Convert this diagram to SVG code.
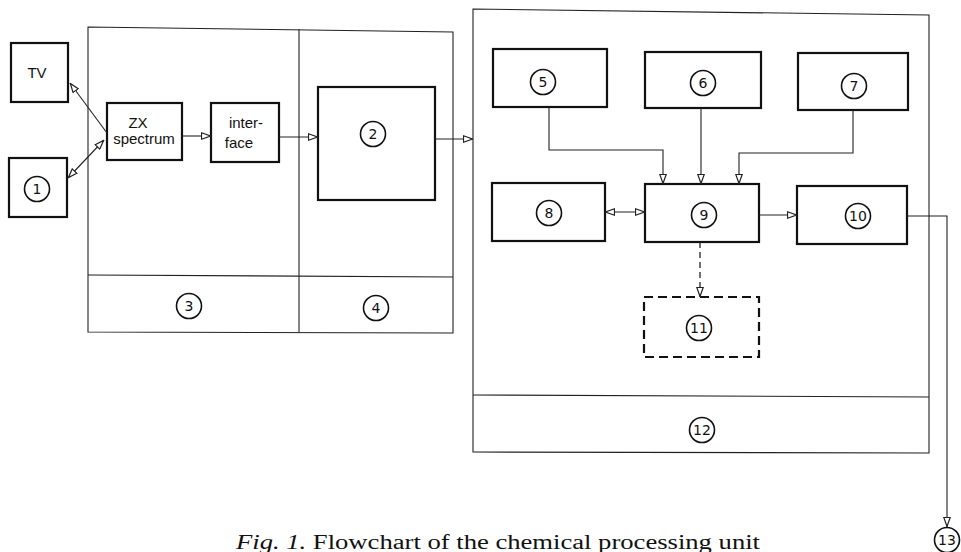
<svg xmlns="http://www.w3.org/2000/svg" width="961" height="552" viewBox="0 0 961 552">
<defs>
<style>
.frame{fill:none;stroke:#222;stroke-width:1.1}
.box{fill:none;stroke:#111;stroke-width:2.2}
.dbox{fill:none;stroke:#111;stroke-width:2.2;stroke-dasharray:9 5}
.circ{fill:none;stroke:#111;stroke-width:1.6}
.num{font-family:"DejaVu Sans","Liberation Sans",sans-serif;font-size:14px;fill:#111;text-anchor:middle}
.lbl{font-family:"Liberation Sans","DejaVu Sans",sans-serif;font-size:15px;fill:#111;text-anchor:middle}
.con{fill:none;stroke:#222;stroke-width:1.1}
.dcon{fill:none;stroke:#222;stroke-width:1.3;stroke-dasharray:6 4}
.cap{font-family:"Liberation Serif","Times New Roman",serif;font-size:20px;fill:#111}
</style>
<marker id="ah" viewBox="0 0 10 8" refX="10" refY="4" markerWidth="10" markerHeight="8" markerUnits="userSpaceOnUse" orient="auto-start-reverse">
<path d="M0.5,0.8 L9.5,4 L0.5,7.2 Z" fill="#fff" stroke="#222" stroke-width="1.2"/>
</marker>
</defs>
<rect width="961" height="552" fill="#fff"/>

<g id="frame-left">
<path class="frame" d="M88,27 L453,32 L453,333 L88,332 Z"/>
<line class="frame" x1="299" y1="29" x2="299" y2="332"/>
<line class="frame" x1="88" y1="275" x2="453" y2="277"/>
</g>
<g id="n3"><circle class="circ" cx="189" cy="306" r="12.5"/><text class="num" x="189" y="311">3</text></g>
<g id="n4"><circle class="circ" cx="376" cy="308" r="12.5"/><text class="num" x="376" y="313">4</text></g>

<g id="frame-right">
<path class="frame" d="M473,9 L929,15 L929,453 L473,452 Z"/>
<line class="frame" x1="473" y1="395" x2="929" y2="397"/>
</g>
<g id="n12"><circle class="circ" cx="702" cy="430" r="12.5"/><text class="num" x="702" y="435">12</text></g>

<g id="tv"><rect class="box" x="11" y="43" width="57" height="59"/><text class="lbl" x="37" y="78">TV</text></g>
<g id="n1"><rect class="box" x="9" y="158" width="58" height="59"/><circle class="circ" cx="37" cy="189" r="12.5"/><text class="num" x="37" y="194">1</text></g>
<g id="zx"><rect class="box" x="107" y="103" width="75" height="57"/><text class="lbl" x="138" y="128">ZX</text><text class="lbl" x="144" y="144">spectrum</text></g>
<g id="iface"><rect class="box" x="211" y="103" width="68" height="59"/><text class="lbl" x="246" y="128">inter-</text><text class="lbl" x="239" y="148">face</text></g>
<g id="n2"><rect class="box" x="318" y="87" width="117" height="113"/><circle class="circ" cx="373" cy="134" r="12.5"/><text class="num" x="373" y="139">2</text></g>

<g id="n5"><rect class="box" x="493" y="49" width="114" height="58"/><circle class="circ" cx="543" cy="82" r="12.5"/><text class="num" x="543" y="87">5</text></g>
<g id="n6"><rect class="box" x="645" y="52" width="116" height="56"/><circle class="circ" cx="703" cy="83" r="12.5"/><text class="num" x="703" y="88">6</text></g>
<g id="n7"><rect class="box" x="798" y="53" width="110" height="57"/><circle class="circ" cx="854" cy="86" r="12.5"/><text class="num" x="854" y="91">7</text></g>
<g id="n8"><rect class="box" x="492" y="183" width="113" height="58"/><circle class="circ" cx="549" cy="213" r="12.5"/><text class="num" x="549" y="218">8</text></g>
<g id="n9"><rect class="box" x="645" y="184" width="114" height="58"/><circle class="circ" cx="704" cy="215" r="12.5"/><text class="num" x="704" y="220">9</text></g>
<g id="n10"><rect class="box" x="797" y="186" width="110" height="58"/><circle class="circ" cx="858" cy="216" r="12.5"/><text class="num" x="858" y="221">10</text></g>
<g id="n11"><rect class="dbox" x="644" y="297" width="115" height="60"/><circle class="circ" cx="699" cy="328" r="12.5"/><text class="num" x="699" y="333">11</text></g>
<g id="n13"><circle class="circ" cx="947" cy="540" r="12.5"/><text class="num" x="947" y="545">13</text></g>

<g id="connectors">
<line class="con" x1="107" y1="133" x2="70" y2="83" marker-end="url(#ah)"/>
<line class="con" x1="104" y1="140" x2="68" y2="178" marker-start="url(#ah)" marker-end="url(#ah)"/>
<line class="con" x1="182" y1="136" x2="211" y2="136" marker-end="url(#ah)"/>
<line class="con" x1="279" y1="137" x2="318" y2="137" marker-end="url(#ah)"/>
<line class="con" x1="435" y1="139" x2="473" y2="139" marker-end="url(#ah)"/>
<path class="con" d="M549,107 L549,150 L663,150 L663,184" marker-end="url(#ah)"/>
<line class="con" x1="701" y1="108" x2="701" y2="184" marker-end="url(#ah)"/>
<path class="con" d="M853,110 L853,153 L739,153 L739,184" marker-end="url(#ah)"/>
<line class="con" x1="605" y1="212" x2="645" y2="212" marker-start="url(#ah)" marker-end="url(#ah)"/>
<line class="con" x1="759" y1="215" x2="797" y2="215" marker-end="url(#ah)"/>
<line class="dcon" x1="700" y1="242" x2="700" y2="297" marker-end="url(#ah)"/>
<path class="con" d="M907,216 L947,216 L947,527" marker-end="url(#ah)"/>
</g>

<text class="cap" x="236" y="549" textLength="524" lengthAdjust="spacingAndGlyphs"><tspan font-style="italic">Fig. 1.</tspan> Flowchart of the chemical processing unit</text>
</svg>
